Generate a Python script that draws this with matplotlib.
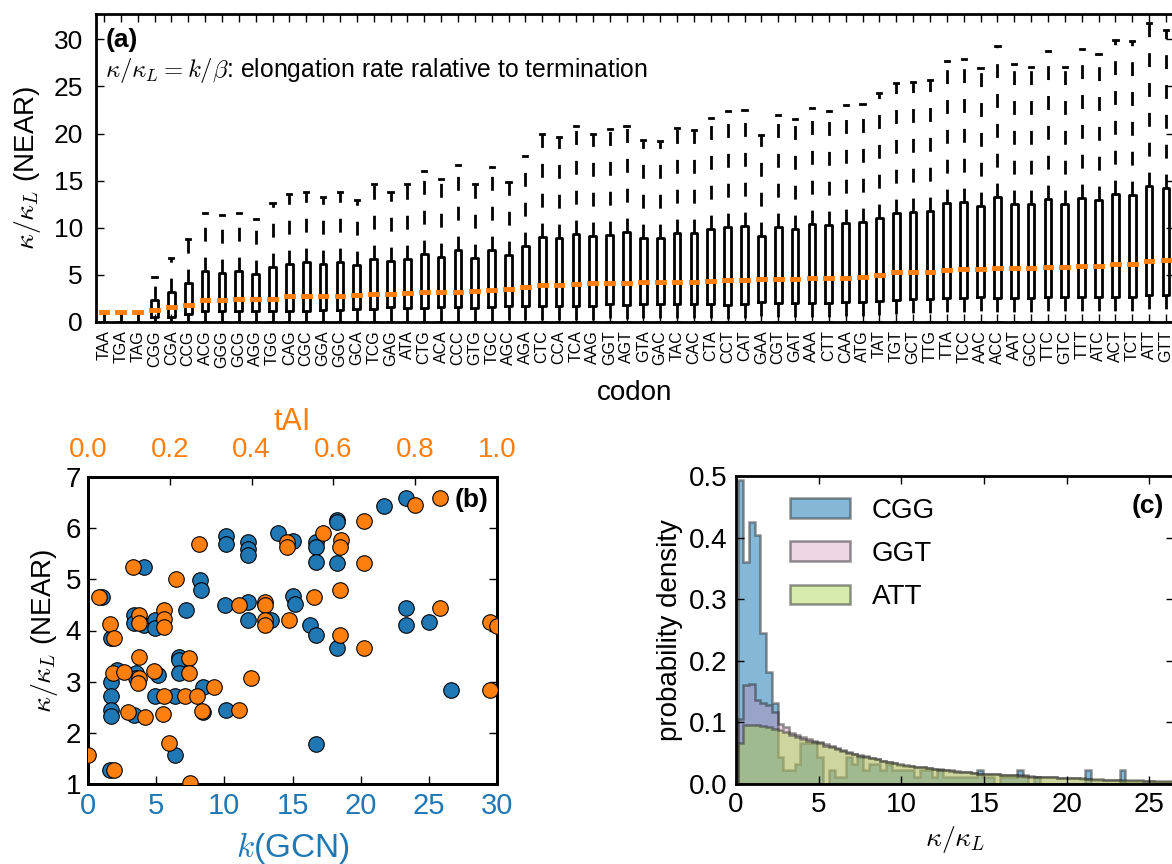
import numpy as np
import matplotlib
matplotlib.use("Agg")
import matplotlib.pyplot as plt
from matplotlib.ticker import FormatStrFormatter

plt.rcParams['font.family'] = ['Liberation Sans', 'DejaVu Sans']
plt.rcParams['mathtext.fontset'] = 'cm'
plt.rcParams['axes.linewidth'] = 2

BLUE = '#1f77b4'
ORANGE = '#ff7f0e'

# ---- panel (a): per-codon box statistics, sorted by median ----
codons = ["TAA", "TGA", "TAG", "CGG", "CGA", "CCG", "ACG", "GGG", "GCG", "AGG",
          "TGG", "CAG", "CGC", "GGA", "GGC", "GCA", "TCG", "GAG", "ATA", "CTG",
          "ACA", "CCC", "GTG", "TGC", "AGC", "AGA", "CTC", "CCA", "TCA", "AAG",
          "GGT", "AGT", "GTA", "GAC", "TAC", "CAC", "CTA", "CCT", "CAT", "GAA",
          "CGT", "GAT", "AAA", "CTT", "CAA", "ATG", "TAT", "TGT", "GCT", "TTG",
          "TTA", "TCC", "AAC", "ACC", "AAT", "GCC", "TTC", "GTC", "TTT", "ATC",
          "ACT", "TCT", "ATT", "GTT"]
whisker_hi = [1, 1, 1, 4.71, 6.75, 8.75, 11.6, 11.35, 11.6, 10.93,
              12.62, 13.53, 13.78, 13.25, 13.78, 12.97, 14.59, 13.78, 14.59, 16.0,
              15.18, 16.7, 14.66, 16.49, 14.83, 17.57, 20.0, 19.65, 20.8, 20.0,
              20.46, 20.8, 19.3, 19.2, 20.56, 20.39, 21.6, 22.4, 22.46, 19.8,
              22.0, 21.5, 22.7, 22.4, 23.0, 23.1, 24.3, 25.4, 25.45, 25.7,
              27.7, 27.9, 27.0, 29.35, 27.4, 27.1, 28.8, 27.1, 29.0, 28.4,
              29.9, 29.8, 31.7, 31.0]
box_q3 = [1, 1, 1, 2.35, 3.13, 4.11, 5.34, 5.17, 5.34, 5.10,
          5.76, 6.15, 6.33, 6.12, 6.36, 6.01, 6.71, 6.47, 6.71, 7.24,
          6.92, 7.63, 6.82, 7.63, 7.10, 8.08, 9.03, 8.89, 9.31, 9.10,
          9.21, 9.49, 8.93, 8.86, 9.46, 9.38, 9.84, 10.09, 10.19, 9.14,
          10.09, 9.84, 10.37, 10.26, 10.54, 10.61, 11.07, 11.60, 11.67, 11.78,
          12.62, 12.69, 12.34, 13.25, 12.55, 12.48, 13.04, 12.48, 13.18, 12.97,
          13.60, 13.50, 14.40, 14.20]
medians = [1, 1, 1, 1.27, 1.56, 1.79, 2.31, 2.35, 2.40, 2.44,
           2.44, 2.72, 2.72, 2.72, 2.72, 2.83, 2.90, 2.97, 3.07, 3.13,
           3.17, 3.20, 3.23, 3.42, 3.48, 3.65, 3.85, 3.91, 4.04, 4.08,
           4.11, 4.14, 4.17, 4.20, 4.21, 4.21, 4.30, 4.40, 4.43, 4.50,
           4.51, 4.56, 4.60, 4.66, 4.68, 4.79, 4.99, 5.25, 5.31, 5.33,
           5.47, 5.60, 5.64, 5.70, 5.73, 5.75, 5.77, 5.84, 5.90, 5.90,
           6.14, 6.16, 6.45, 6.58]
box_q1 = [1, 1, 1, 0.53, 0.53, 0.77, 1.09, 1.09, 1.12, 1.12,
          1.12, 1.19, 1.19, 1.23, 1.23, 1.30, 1.37, 1.55, 1.48, 1.48,
          1.55, 1.55, 1.48, 1.55, 1.65, 1.65, 1.72, 1.72, 1.72, 1.72,
          1.83, 1.80, 1.83, 1.90, 1.83, 1.90, 1.90, 1.79, 1.93, 2.07,
          2.00, 1.97, 2.00, 2.00, 2.07, 2.14, 2.18, 2.28, 2.42, 2.39,
          2.50, 2.50, 2.64, 2.50, 2.53, 2.53, 2.64, 2.64, 2.60, 2.64,
          2.64, 2.64, 2.81, 2.88]
WHISKER_LO = 0.0

# ---- panel (b): median vs gene copy number (blue) and tAI (orange) ----
gcn_x = [23.3, 21.7, 18.3, 18.3, 13.9, 10.1, 10.1, 11.7, 11.7, 11.7,
         15.0, 16.7, 16.7, 16.7, 18.3, 4.1, 8.2, 8.3, 1.0, 15.0,
         15.2, 10.05, 7.2, 11.7, 11.7, 23.3, 23.3, 25.0, 16.3, 16.7,
         18.3, 13.4, 3.35, 3.35, 4.1, 4.9, 4.9, 1.7, 1.7, 1.7,
         1.7, 1.7, 2.1, 3.5, 3.5, 5.1, 6.7, 6.7, 6.7, 6.4,
         4.9, 8.4, 8.4, 10.1, 3.35, 16.7, 6.4, 1.6, 26.65]
gcn_y = [6.58, 6.44, 6.16, 6.12, 5.90, 5.84, 5.70, 5.73, 5.60, 5.47,
         5.75, 5.73, 5.64, 5.33, 5.31, 5.25, 4.99, 4.79, 4.66, 4.68,
         4.51, 4.50, 4.40, 4.56, 4.21, 4.43, 4.11, 4.17, 4.11, 3.91,
         3.65, 4.21, 4.30, 4.14, 4.11, 4.20, 4.04, 3.85, 3.00, 2.72,
         2.44, 2.32, 3.23, 3.17, 3.07, 3.13, 3.48, 3.42, 3.17, 2.72,
         2.72, 2.90, 2.40, 2.44, 2.35, 1.79, 1.56, 1.28, 2.83]
tai_x = [0.861, 0.799, 0.676, 0.574, 0.487, 0.487, 0.619, 0.617, 0.271, 0.109,
         0.676, 0.216, 0.615, 0.028, 0.553, 0.368, 0.432, 0.432, 0.432, 0.432,
         0.491, 0.861, 0.982, 1.0, 0.615, 0.676, 0.055, 0.063, 0.124, 0.124,
         0.185, 0.185, 0.185, 0.124, 0.060, 0.089, 0.124, 0.123, 0.162, 0.185,
         0.246, 0.246, 0.238, 0.267, 0.307, 0.399, 0.279, 0.368, 0.098, 0.140,
         0.183, 0.199, 0.0, 0.063, 0.250, 0.982]
tai_y = [6.58, 6.45, 6.14, 5.90, 5.73, 5.64, 5.77, 5.64, 5.70, 5.25,
         5.31, 5.00, 4.79, 4.65, 4.66, 4.50, 4.56, 4.50, 4.21, 4.11,
         4.21, 4.43, 4.17, 4.08, 3.91, 3.65, 4.13, 3.85, 4.30, 4.14,
         4.40, 4.22, 4.06, 3.49, 3.17, 3.18, 3.07, 2.97, 3.20, 2.72,
         3.46, 3.17, 2.72, 2.72, 2.90, 3.07, 2.43, 2.44, 2.40, 2.31,
         2.37, 1.80, 1.56, 1.27, 1.02, 2.83]

# ---- panel (c): histogram densities per bin ----
hist_start, hist_width, n_bins = 0.1, 0.345, 77
cgg_density = [0.494, 0.361, 0.426, 0.404, 0.245, 0.182, 0.131, 0.044, 0.022, 0.022,
               0.033, 0.066, 0.066, 0.066, 0.044, 0.0, 0.022, 0.011, 0.011, 0.044,
               0.033, 0.044, 0.022, 0.033, 0.033, 0.022, 0.033, 0.022, 0.022, 0.022,
               0.022, 0.011, 0.022, 0.022, 0.011, 0.022, 0.011, 0.011, 0.011, 0.011,
               0.011, 0.011, 0.022, 0.011, 0.011, 0.0, 0.011, 0.011, 0.011, 0.022,
               0.011, 0.0, 0.011, 0.0, 0.0, 0.0, 0.0, 0.0, 0.0, 0.0,
               0.0, 0.022, 0.0, 0.0, 0.0, 0.0, 0.0, 0.022, 0.0, 0.0,
               0.0, 0.0, 0.0, 0.0, 0.0, 0.0, 0.0]
ggt_density = [0.105, 0.161, 0.163, 0.136, 0.131, 0.128, 0.117, 0.098, 0.092, 0.082,
               0.079, 0.076, 0.073, 0.070, 0.068, 0.065, 0.062, 0.058, 0.055, 0.052,
               0.049, 0.047, 0.045, 0.042, 0.040, 0.038, 0.036, 0.034, 0.031, 0.030,
               0.029, 0.028, 0.027, 0.026, 0.025, 0.024, 0.023, 0.022, 0.021, 0.020,
               0.019, 0.018, 0.017, 0.017, 0.016, 0.016, 0.015, 0.015, 0.014, 0.014,
               0.014, 0.013, 0.012, 0.012, 0.011, 0.011, 0.010, 0.010, 0.009, 0.009,
               0.008, 0.008, 0.007, 0.007, 0.006, 0.006, 0.006, 0.005, 0.005, 0.005,
               0.005, 0.005, 0.005, 0.004, 0.004, 0.004, 0.004]
att_density = [0.066, 0.096, 0.096, 0.095, 0.094, 0.092, 0.089, 0.087, 0.085, 0.080,
               0.076, 0.073, 0.070, 0.068, 0.066, 0.062, 0.060, 0.057, 0.054, 0.051,
               0.049, 0.046, 0.044, 0.042, 0.040, 0.038, 0.036, 0.034, 0.032, 0.031,
               0.030, 0.028, 0.027, 0.026, 0.024, 0.023, 0.022, 0.021, 0.020, 0.020,
               0.019, 0.018, 0.017, 0.017, 0.016, 0.016, 0.015, 0.015, 0.014, 0.013,
               0.013, 0.012, 0.012, 0.011, 0.011, 0.011, 0.010, 0.010, 0.010, 0.009,
               0.009, 0.008, 0.008, 0.008, 0.007, 0.007, 0.007, 0.006, 0.006, 0.006,
               0.006, 0.005, 0.005, 0.005, 0.005, 0.005, 0.005]

W, H = 1172.0, 864.0


def px_axes(fig, left, top, right, bottom):
    return fig.add_axes([left / W, 1 - bottom / H, (right - left) / W, (bottom - top) / H])


fig = plt.figure(figsize=(W / 100, H / 100), dpi=100)

# ---------------- (a) ----------------
ax_a = px_axes(fig, 95.5, 14, 1174.4, 321.7)
stats = [dict(whislo=WHISKER_LO, q1=lo, med=m, q3=hi, whishi=w)
         for lo, m, hi, w in zip(box_q1, medians, box_q3, whisker_hi)]
pos = np.arange(1, len(codons) + 1)
ax_a.bxp(stats, positions=pos, widths=0.4, capwidths=0.25, showfliers=False,
         boxprops=dict(color='k', lw=2),
         whiskerprops=dict(color='k', lw=2, linestyle=(0, (5, 5.75))),
         capprops=dict(color='k', lw=2),
         medianprops=dict(color=ORANGE, lw=3.5, solid_capstyle='projecting'))
ax_a.set_xlim(0.5, 64.5)
ax_a.set_ylim(0, 32.7)
ax_a.set_xticks(pos)
ax_a.set_xticklabels(codons, rotation=90, fontsize=11.5)
ax_a.set_yticks(range(0, 31, 5))
ax_a.tick_params(direction='in', top=True, right=True, length=5.5, width=1)
ax_a.tick_params(axis='y', labelsize=19, pad=9)
ax_a.tick_params(axis='x', pad=6)
ax_a.set_xlabel("codon", fontsize=20, labelpad=9)
ax_a.set_ylabel(r"$\kappa/\kappa_L$ (NEAR)", fontsize=20, labelpad=8)
ax_a.text(0.009, 0.915, "(a)", transform=ax_a.transAxes, fontsize=19,
          fontweight='bold', va='center', ha='left')
ax_a.text(0.009, 0.815, r"$\kappa/\kappa_L=k/\beta$: elongation rate ralative to termination",
          transform=ax_a.transAxes, fontsize=17.8, va='center', ha='left')

# ---------------- (b) ----------------
ax_b = px_axes(fig, 88, 477, 497, 784)
ax_b.scatter(gcn_x, gcn_y, s=125, c=BLUE, edgecolors='k', linewidths=0.8, zorder=3)
ax_b.set_xlim(0, 30)
ax_b.set_ylim(1, 7)
ax_b.set_xticks(range(0, 31, 5))
ax_b.set_yticks(range(1, 8))
ax_b.tick_params(direction='in', right=True, length=5.5, width=1)
ax_b.tick_params(axis='x', labelsize=21, labelcolor=BLUE, pad=6)
ax_b.tick_params(axis='y', labelsize=20, pad=5)
ax_b.set_xlabel(r"$k$(GCN)", fontsize=24, color=BLUE, labelpad=7)
ax_b.set_ylabel(r"$\kappa/\kappa_L$ (NEAR)", fontsize=20)
ax_b.text(0.978, 0.925, "(b)", transform=ax_b.transAxes, fontsize=19,
          fontweight='bold', va='center', ha='right', zorder=5)

ax_t = ax_b.twiny()
ax_t.scatter(tai_x, tai_y, s=125, c=ORANGE, edgecolors='k', linewidths=0.8, zorder=3)
ax_t.set_xlim(0, 1)
ax_t.set_xticks([0.0, 0.2, 0.4, 0.6, 0.8, 1.0])
ax_t.xaxis.set_major_formatter(FormatStrFormatter('%.1f'))
ax_t.tick_params(axis='x', direction='in', length=5.5, width=1,
                 labelsize=20, labelcolor=ORANGE, pad=10)
ax_t.set_xlabel("tAI", fontsize=22, color=ORANGE, labelpad=5)

# ---------------- (c) ----------------
ax_c = px_axes(fig, 736, 476, 1174, 784)
edges = hist_start + hist_width * np.arange(n_bins + 1)
hist_styles = [("CGG", cgg_density, (0.204, 0.541, 0.741, 0.6)),
               ("GGT", ggt_density, (0.8, 0.475, 0.655, 0.3)),
               ("ATT", att_density, (0.66, 0.83, 0.29, 0.45))]
for name, dens, face in hist_styles:
    ax_c.hist(edges[:-1], bins=edges, weights=dens, histtype='stepfilled',
              facecolor=face, edgecolor=(0.15, 0.15, 0.15, 0.5), lw=1.8, label=name)
ax_c.set_xlim(0, 26.5)
ax_c.set_ylim(0, 0.5)
ax_c.set_xticks(range(0, 26, 5))
ax_c.set_yticks([0.0, 0.1, 0.2, 0.3, 0.4, 0.5])
ax_c.yaxis.set_major_formatter(FormatStrFormatter('%.1f'))
ax_c.tick_params(direction='in', top=True, right=True, length=5.5, width=1, labelsize=20)
ax_c.tick_params(axis='x', pad=6)
ax_c.tick_params(axis='y', pad=6)
ax_c.set_xlabel(r"$\kappa/\kappa_L$", fontsize=20)
ax_c.set_ylabel("probability density", fontsize=20)
ax_c.legend(loc='upper left', bbox_to_anchor=(0.123, 0.93), frameon=False, fontsize=20,
            borderpad=0, borderaxespad=0, handlelength=2.15, handletextpad=0.8,
            labelspacing=0.62)
ax_c.text(0.977, 0.903, "(c)", transform=ax_c.transAxes, fontsize=19,
          fontweight='bold', va='center', ha='right')

fig.savefig("out.png", dpi=100)
